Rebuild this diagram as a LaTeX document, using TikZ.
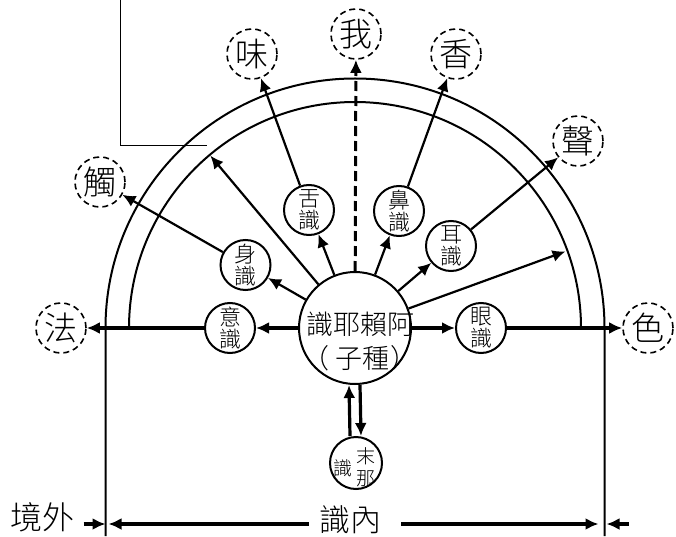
\documentclass[tikz,border=0pt]{standalone}
\usepackage{fontspec}
\setmainfont{Noto Sans CJK TC}[UprightFont={* Light}]
\usetikzlibrary{arrows.meta,calc}

\begin{document}
\begin{tikzpicture}[
			x = 1pt, y = 1pt,
			>={Latex[length=13pt,width=12pt]},
			every node/.style = {inner sep=0pt},
			every label/.style = {inner sep=0pt},
			seed/.style = {circle,draw,line width=2pt,minimum size=112pt},
			sense/.style = {circle,draw,line width=2pt,minimum size=50pt,align=center,font=\fontsize{22}{22}\selectfont},
			object/.style = {circle,draw,line width=1.6pt,dash pattern=on 6pt off 4pt,minimum size=50pt,font=\fontsize{33}{33}\selectfont},
			ray/.style = {->,line width=2.2pt},
			main/.style = {->,line width=3.2pt},
			]
			\useasboundingbox (0,0) rectangle (676,536);
			\coordinate (C) at (355,208);

			\draw[line width=2pt] (105.5,0) -- (105.5,208) arc[start angle=180,end angle=0,radius=249.5] -- (604.5,0);
			\draw[line width=2pt] (129,208) arc[start angle=180,end angle=0,radius=226];
			\draw[line width=1pt] (120,536) -- (120,390.5) -- (207,390.5);

			\node[seed,label={[font=\fontsize{27}{34}\selectfont,align=center,xshift=5pt,yshift=-13pt]center:識耶賴阿\\（\hspace{6pt}子種\hspace{2pt}）}] (alaya) at (C) {};

			\node[sense] (mind) at (230,208) {意\\識};
			\node[sense] (eye) at (481,208) {眼\\識};
			\node[sense] (body) at (245.5,271) {身\\識};
			\node[sense] (tongue) at (309,326) {舌\\識};
			\node[sense] (nose) at (399,325) {鼻\\識};
			\node[sense] (ear) at (451,290) {耳\\識};
			\node[sense,minimum size=52pt,
				label={[font=\fontsize{19}{21}\selectfont,xshift=-13pt,yshift=-5pt]center:識},
				label={[font=\fontsize{19}{22}\selectfont,align=center,xshift=10pt,yshift=-4pt]center:末\\那}] (manas) at (356,73) {};

			\node[object] (dharma) at (61,208) {法};
			\node[object] (form) at (648,208) {色};
			\node[object] (touch) at (100,354) {觸};
			\node[object] (taste) at (252,482) {味};
			\node[object] (self) at (356,502) {我};
			\node[object] (smell) at (456,482) {香};
			\node[object] (sound) at (578,395) {聲};

			\coordinate (rimL) at ($(C)+(130:225)$);
			\coordinate (rimR) at ($(C)+(20:224)$);

			\draw[main] (alaya) -- (mind);
			\draw[main] (mind) -- (dharma);
			\draw[main] (alaya) -- (eye);
			\draw[main] (eye) -- (form);

			\draw[ray] (alaya) -- (body);
			\draw[ray] (body) -- (touch);
			\draw[ray] (alaya) -- (rimL);
			\draw[ray] (alaya) -- (tongue);
			\draw[ray] (tongue) -- (taste);
			\draw[->,line width=3pt,dash pattern=on 10pt off 5pt] (alaya) -- (self);
			\draw[ray] (alaya) -- (nose);
			\draw[ray] (nose) -- (smell);
			\draw[ray] (alaya) -- (ear);
			\draw[ray] (ear) -- (sound);
			\draw[ray] (alaya) -- (rimR);

			\draw[main] ([xshift=-6pt]manas.north) -- ([xshift=-6pt]alaya.south);
			\draw[main] ([xshift=5pt]alaya.south) -- ([xshift=5pt]manas.north);

			\node[font=\fontsize{32}{32}\selectfont] (outside) at (42,19) {境外};
			\node[font=\fontsize{31}{31}\selectfont] (inside) at (350,16) {識內};

			\coordinate (lwall) at (105.5,12);
			\coordinate (rwall) at (604.5,12);

			\draw[main] ($(lwall)+(-22,0)$) -- (lwall);
			\draw[main] ($(inside.west |- lwall)+(-10,0)$) -- ($(lwall)+(3,0)$);
			\draw[main] ($(inside.east |- rwall)+(20,0)$) -- ($(rwall)+(-6,0)$);
			\draw[main] ($(rwall)+(24,0)$) -- ($(rwall)+(2,0)$);

		\end{tikzpicture}
\end{document}
